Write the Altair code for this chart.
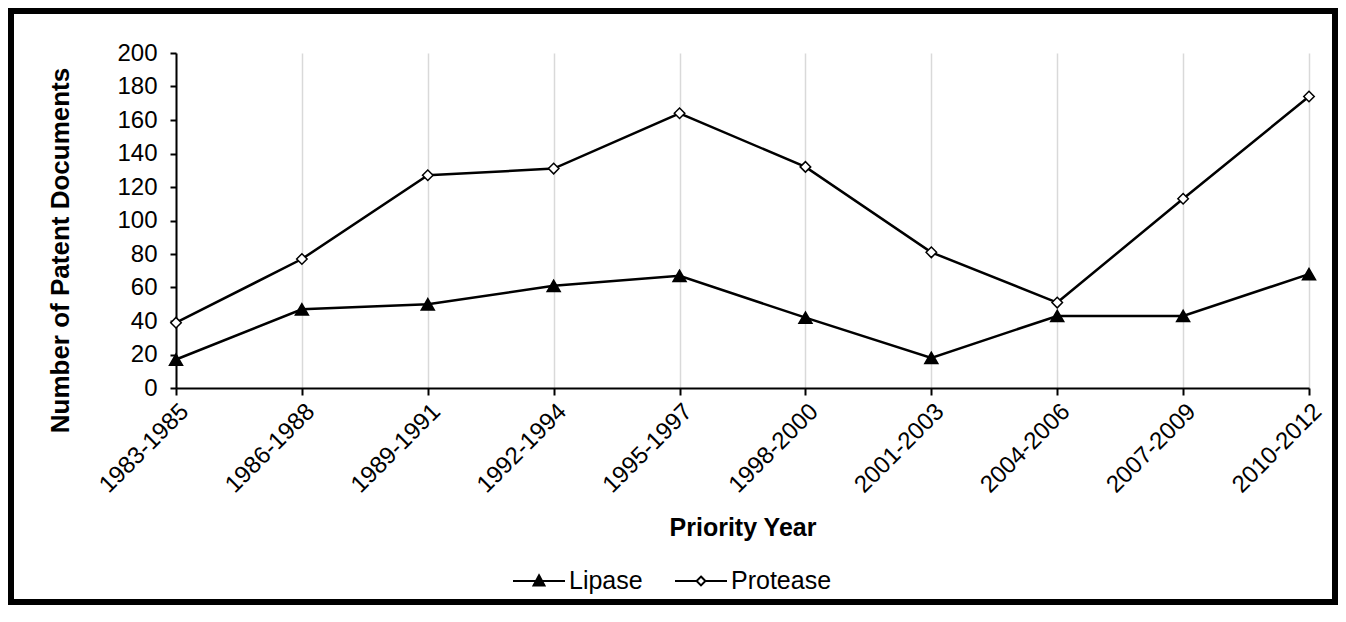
import altair as alt
import pandas as pd

periods = ["1983-1985", "1986-1988", "1989-1991", "1992-1994", "1995-1997",
           "1998-2000", "2001-2003", "2004-2006", "2007-2009", "2010-2012"]
lipase = [17, 47, 50, 61, 67, 42, 18, 43, 43, 68]
protease = [39, 77, 127, 131, 164, 132, 81, 51, 113, 174]
series_names = ["Lipase", "Protease"]
y_ticks = list(range(0, 201, 20))

rows = []
for name, vals in zip(series_names, [lipase, protease]):
    for p, v in zip(periods, vals):
        rows.append({"period": p, "value": v, "series": name})
df = pd.DataFrame(rows)

FONT = "Liberation Sans"
W, H = 1133, 335

x_enc = alt.X("period:N", sort=periods,
              scale=alt.Scale(type="point", padding=0),
              axis=alt.Axis(title="Priority Year", grid=True, gridColor="#d9d9d9", gridWidth=1.5,
                            domainColor="black", domainWidth=2, tickColor="black", tickSize=7,
                            tickWidth=2, labelAngle=315, labelFontSize=24, labelColor="black",
                            labelPadding=4, titleFontSize=25, titleFontWeight="bold",
                            titleColor="black", titleY=147, titleBaseline="alphabetic"))
y_enc = alt.Y("value:Q", scale=alt.Scale(domain=[0, 200], nice=False),
              axis=alt.Axis(title="Number of Patent Documents", values=y_ticks, grid=False,
                            domainColor="black", domainWidth=2, tickColor="black", tickSize=6,
                            tickWidth=2, labelFontSize=24, labelColor="black", labelPadding=13,
                            titleFontSize=26, titleFontWeight="bold", titleColor="black",
                            titleX=-108, titleY=197, titleBaseline="alphabetic"))

base = alt.Chart(df)

lines = base.mark_line(color="black", strokeWidth=2.5).encode(
    x=x_enc, y=y_enc, detail="series:N")

points = base.mark_point(filled=False, stroke="black", strokeWidth=1.5, opacity=1).encode(
    x=x_enc, y=y_enc,
    shape=alt.Shape("series:N", scale=alt.Scale(domain=series_names, range=["triangle-up", "diamond"]), legend=None),
    fill=alt.Fill("series:N", scale=alt.Scale(domain=series_names, range=["black", "white"]), legend=None),
    size=alt.Size("series:N", scale=alt.Scale(domain=series_names, range=[170, 110]), legend=None),
)

tri_path = "M-1,0L1,0M0,-0.22L0.21,0.17L-0.21,0.17Z"
dia_path = "M-1,0L-0.17,0M0.17,0L1,0M0,-0.17L0.17,0L0,0.17L-0.17,0Z"

leg = alt.Legend(title=None, orient="none", legendX=336, legendY=501, direction="horizontal",
                 symbolSize=2704, symbolStrokeWidth=2, symbolStrokeColor="black",
                 labelFontSize=25, labelColor="black", labelOffset=3, columnPadding=28,
                 padding=0)
legend_layer = base.transform_filter("datum.value < 0").mark_point(
    strokeWidth=2, opacity=1).encode(
    x=x_enc, y=y_enc,
    shape=alt.Shape("series:N", scale=alt.Scale(domain=series_names, range=[tri_path, dia_path]), legend=leg),
    fill=alt.Fill("series:N", scale=alt.Scale(domain=series_names, range=["black", "white"]), legend=leg),
    stroke=alt.Stroke("series:N", scale=alt.Scale(domain=series_names, range=["black", "black"]), legend=leg),
)

border = alt.Chart(pd.DataFrame({"a": [0]})).mark_rect(
    fillOpacity=0, stroke="black", strokeWidth=6).encode(
    x=alt.value(-165), x2=alt.value(W + 26), y=alt.value(-42), y2=alt.value(H + 214))

chart = alt.layer(lines, points, legend_layer, border).resolve_scale(
    shape="independent", fill="independent", size="independent", stroke="independent"
).properties(
    width=W, height=H,
    autosize=alt.AutoSizeParams(type="none"),
    padding={"left": 168, "top": 45, "right": 29, "bottom": 220},
).configure(font=FONT).configure_view(stroke=None)

chart.save("out.html", embed_options={"renderer": "svg", "actions": False})
